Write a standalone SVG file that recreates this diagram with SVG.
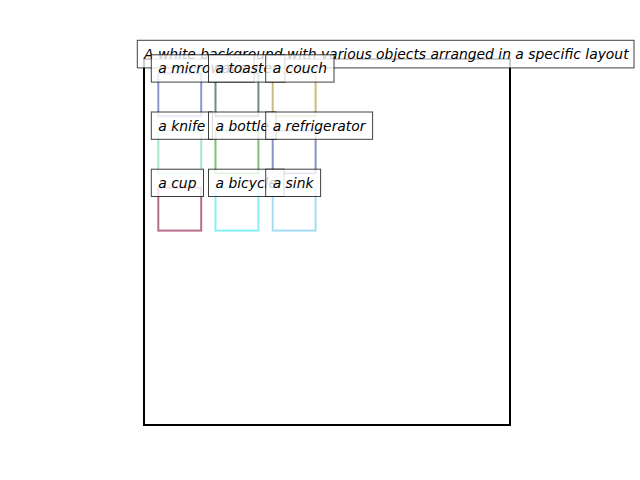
<svg xmlns="http://www.w3.org/2000/svg" width="640" height="480" viewBox="0 0 640 480">
<style>
.frame{fill:none;stroke:#000;stroke-width:2}
.obj{fill:none;stroke-width:2}
.lb{fill:#fff;fill-opacity:0.8;stroke:#000;stroke-opacity:0.75;stroke-width:1}
.t{font-family:"DejaVu Sans","Liberation Sans",sans-serif;font-style:italic;font-size:13.89px;fill:#000}
</style>
<rect width="640" height="480" fill="#fff"/>
<rect class="frame" x="144" y="59" width="366" height="366"/>
<g id="objects">
<rect id="box-microwave" class="obj" stroke="#8c95d6" x="158.3" y="73.3" width="42.9" height="42.9"/>
<rect id="box-toaster" class="obj" stroke="#6e8c80" x="215.5" y="73.3" width="42.9" height="42.9"/>
<rect id="box-couch" class="obj" stroke="#c9bc7c" x="272.7" y="73.3" width="42.9" height="42.9"/>
<rect id="box-knife" class="obj" stroke="#a8e8c8" x="158.3" y="130.5" width="42.9" height="42.9"/>
<rect id="box-bottle" class="obj" stroke="#7cc07c" x="215.5" y="130.5" width="42.9" height="42.9"/>
<rect id="box-refrigerator" class="obj" stroke="#8890d0" x="272.7" y="130.5" width="42.9" height="42.9"/>
<rect id="box-cup" class="obj" stroke="#b86c8c" x="158.3" y="187.7" width="42.9" height="42.9"/>
<rect id="box-bicycle" class="obj" stroke="#88f0f4" x="215.5" y="187.7" width="42.9" height="42.9"/>
<rect id="box-sink" class="obj" stroke="#a4dcf4" x="272.7" y="187.7" width="42.9" height="42.9"/>
</g>
<g id="title">
<rect class="lb" x="137.3" y="40.3" width="496.7" height="27.6"/>
<text class="t" x="144" y="58.8">A white background with various objects arranged in a specific layout</text>
</g>
<g id="connectors"></g>
<g id="label-microwave"><rect class="lb" x="151.3" y="54.8" width="102.8" height="27.3"/><text class="t" x="158.3" y="73.3">a microwave</text></g>
<g id="label-toaster"><rect class="lb" x="208.5" y="54.8" width="76.3" height="27.3"/><text class="t" x="215.5" y="73.3">a toaster</text></g>
<g id="label-couch"><rect class="lb" x="265.7" y="54.8" width="68.3" height="27.3"/><text class="t" x="272.7" y="73.3">a couch</text></g>
<g id="label-knife"><rect class="lb" x="151.3" y="112" width="61.1" height="27.3"/><text class="t" x="158.3" y="130.5">a knife</text></g>
<g id="label-bottle"><rect class="lb" x="208.5" y="112" width="67.5" height="27.3"/><text class="t" x="215.5" y="130.5">a bottle</text></g>
<g id="label-refrigerator"><rect class="lb" x="265.7" y="112" width="106.9" height="27.3"/><text class="t" x="272.7" y="130.5">a refrigerator</text></g>
<g id="label-cup"><rect class="lb" x="151.3" y="169.2" width="52.2" height="27.3"/><text class="t" x="158.3" y="187.7">a cup</text></g>
<g id="label-bicycle"><rect class="lb" x="208.5" y="169.2" width="75.5" height="27.3"/><text class="t" x="215.5" y="187.7">a bicycle</text></g>
<g id="label-sink"><rect class="lb" x="265.7" y="169.2" width="54.9" height="27.3"/><text class="t" x="272.7" y="187.7">a sink</text></g>
</svg>
